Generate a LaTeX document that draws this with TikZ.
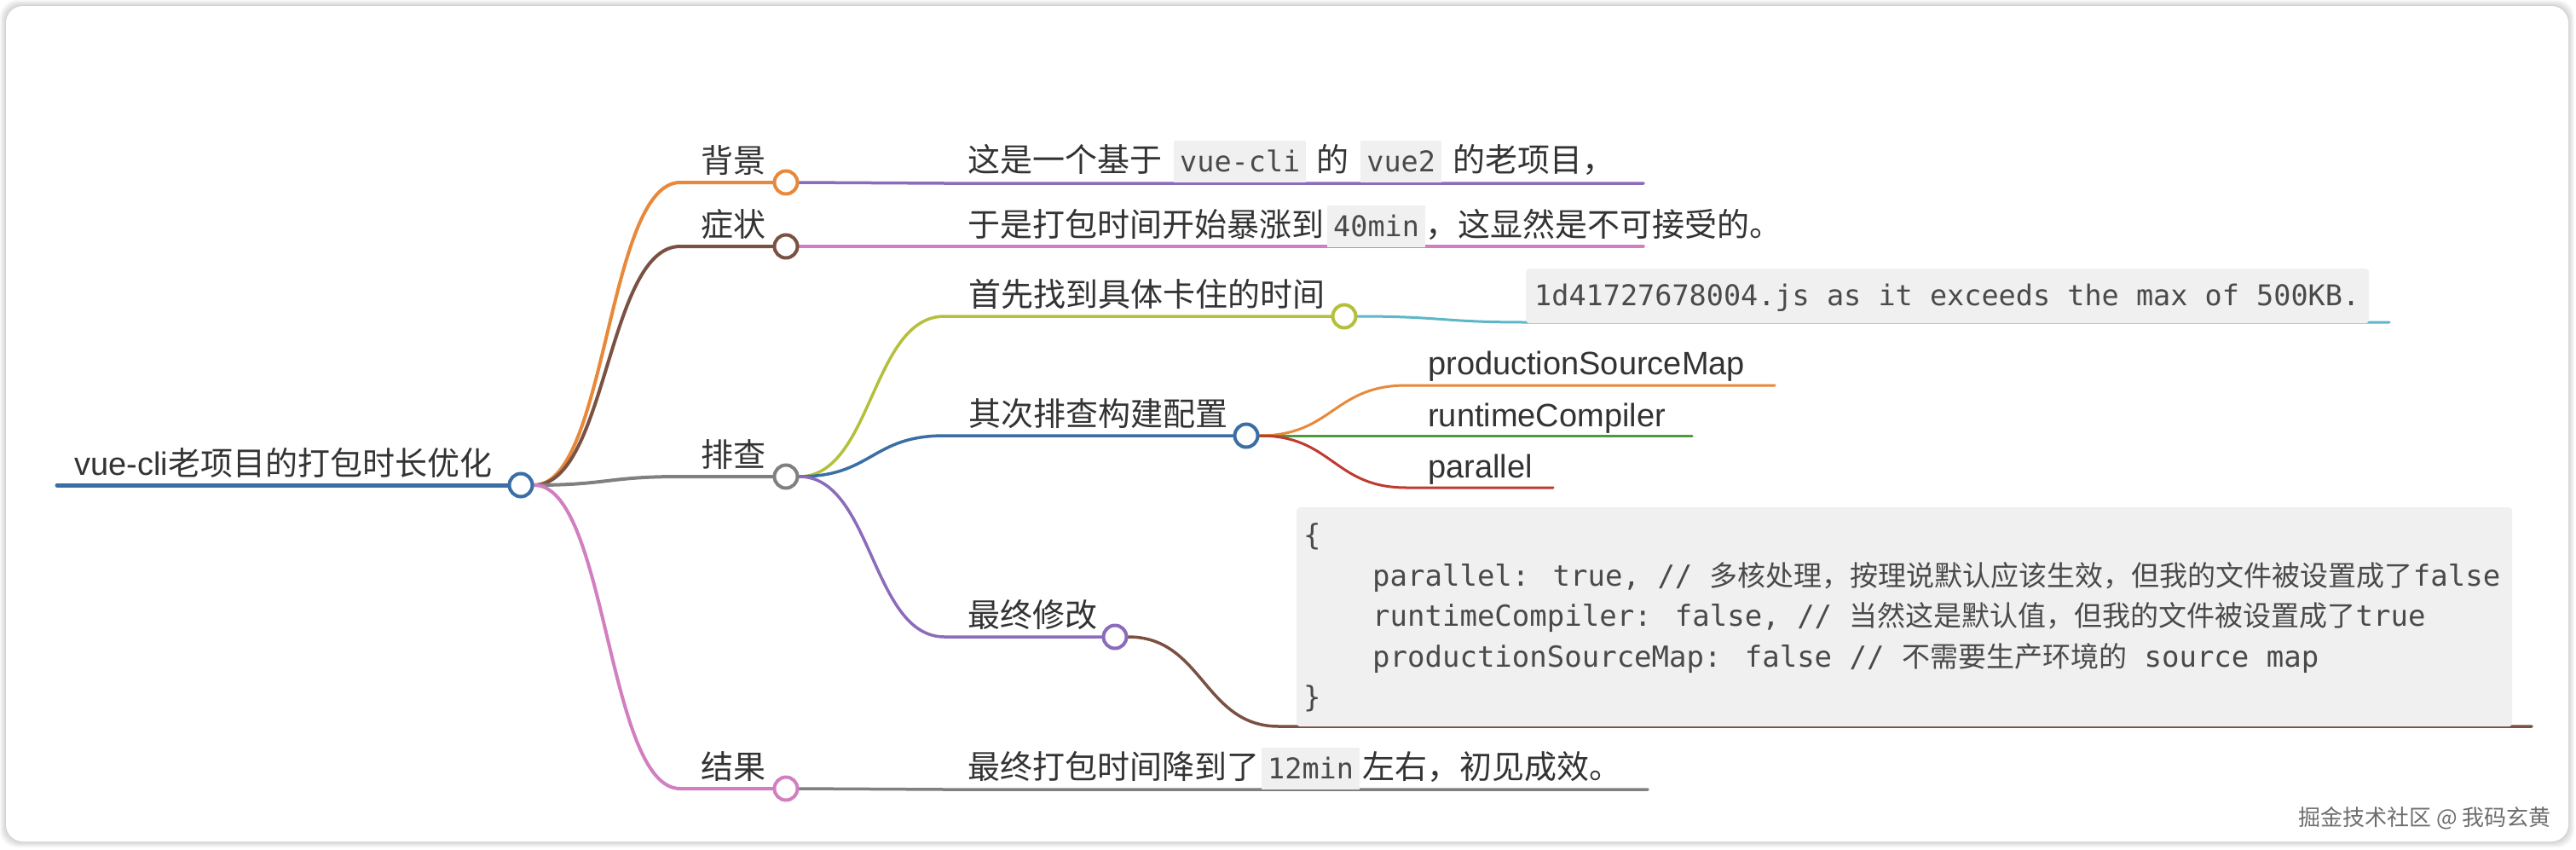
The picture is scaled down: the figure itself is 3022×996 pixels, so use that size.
\documentclass[tikz,border=0pt]{standalone}
\usepackage{fontspec}
\setmainfont{Noto Sans CJK SC}
\newfontfamily\cjk{Noto Sans CJK SC}
\newfontfamily\lat{Liberation Sans}
\newfontfamily\mono{DejaVu Sans Mono}
\usetikzlibrary{backgrounds}
\definecolor{cBlue}{HTML}{3A6EA5}
\definecolor{cOrange}{HTML}{E8883A}
\definecolor{cBrown}{HTML}{7A5142}
\definecolor{cGrey}{HTML}{808080}
\definecolor{cPink}{HTML}{D27FC1}
\definecolor{cPurple}{HTML}{8B6BBA}
\definecolor{cYG}{HTML}{B4C03C}
\definecolor{cCyan}{HTML}{5CB7C8}
\definecolor{cGreen}{HTML}{4D9A3F}
\definecolor{cRed}{HTML}{BF3A2F}
\definecolor{codebg}{HTML}{F0F0F0}
\definecolor{codefg}{HTML}{4A4A4A}
\definecolor{txt}{HTML}{333333}
\definecolor{wm}{HTML}{6E6E6E}
\pgfdeclarelayer{card}
\pgfsetlayers{card,background,main}
\newcommand{\ic}[1]{{\setlength{\fboxsep}{7pt}\colorbox{codebg}{\rule[-6pt]{0pt}{35pt}\fontsize{33.5pt}{36pt}\mono\color{codefg}#1}}}
\newcommand{\cj}[1]{{\fontsize{33pt}{36pt}\cjk #1}}
\tikzset{
  lbl/.style={inner sep=0pt, font=\fontsize{38pt}{40pt}\selectfont, text=txt},
  dotnode/.style={circle, draw=#1, line width=4pt, fill=white, minimum size=27pt, inner sep=0pt},
  br/.style={draw=#1, line width=4pt, line cap=round},
  brs/.style={draw=#1, line width=3.5pt, line cap=round},
  brt/.style={draw=#1, line width=3pt, line cap=round},
  codeline/.style={inner sep=0pt, font=\fontsize{34pt}{36pt}\mono, text=codefg},
  codebox/.style={fill=codebg, rounded corners=4pt, inner sep=0pt, anchor=north west},
}
\begin{document}
\begin{tikzpicture}[x=1pt,y=-1pt]
\useasboundingbox (0,0) rectangle (3022,996);
\begin{pgfonlayer}{card}
  \fill[white] (0,0) rectangle (3022,996);
  \foreach \i in {1,...,7}{
    \fill[black, opacity=0.022, rounded corners=20pt] (7-\i,7-\i) rectangle (3013+\i,987+\i);
  }
  \fill[white, rounded corners=20pt] (7,7) rectangle (3013,987);
\end{pgfonlayer}

% circles
\node[dotnode=cBlue] (root) at (611,569) {};
\node[dotnode=cOrange] (bj) at (922,214) {};
\node[dotnode=cBrown] (zz) at (922,289) {};
\node[dotnode=cGrey] (pc) at (922,559) {};
\node[dotnode=cPink] (jg) at (922,925) {};
\node[dotnode=cYG] (sx) at (1577,371) {};
\node[dotnode=cBlue] (qc) at (1462,511) {};
\node[dotnode=cPurple] (zx) at (1308,747) {};

% code boxes
\node[codebox, minimum width=989pt, minimum height=64pt] (errbox) at (1790,315) {};
\node[codebox, minimum width=1426pt, minimum height=257pt] (cfgbox) at (1521,595) {};

% coordinates
\coordinate (rootstart) at (67,569);
\coordinate (h1) at (798,214);
\coordinate (h2) at (798,289);
\coordinate (h3) at (798,559);
\coordinate (h4) at (798,925);
\coordinate (hb) at (1108,215);
\coordinate (eb) at (1928,215);
\coordinate (hz) at (1108,289);
\coordinate (ez) at (1928,289);
\coordinate (hj) at (1108,926);
\coordinate (ej) at (1933,926);
\coordinate (hsx) at (1108,371);
\coordinate (hqc) at (1108,511);
\coordinate (hzx) at (1108,747);
\coordinate (hcy) at (1790,378);
\coordinate (ecy) at (2803,378);
\coordinate (hp1) at (1650,452);
\coordinate (ep1) at (2082,452);
\coordinate (ep2) at (1985,511);
\coordinate (hp3) at (1650,572);
\coordinate (ep3) at (1822,572);
\coordinate (hbr) at (1500,852);
\coordinate (ebr) at (2970,852);

\begin{pgfonlayer}{background}
  \draw[br=cBlue, line width=5pt] (rootstart) -- (root.west);
  \draw[br=cOrange] (root.east) .. controls +(86,0) and +(-86,0) .. (h1) -- (bj.west);
  \draw[br=cBrown] (root.east) .. controls +(86,0) and +(-86,0) .. (h2) -- (zz.west);
  \draw[br=cGrey] (root.east) .. controls +(86,0) and +(-86,0) .. (h3) -- (pc.west);
  \draw[br=cPink] (root.east) .. controls +(86,0) and +(-86,0) .. (h4) -- (jg.west);
  \draw[brs=cPurple] (bj.east) .. controls +(86,0) and +(-86,0) .. (hb) -- (eb);
  \draw[brs=cPink] (zz.east) .. controls +(86,0) and +(-86,0) .. (hz) -- (ez);
  \draw[brs=cGrey] (jg.east) .. controls +(86,0) and +(-86,0) .. (hj) -- (ej);
  \draw[brs=cYG] (pc.east) .. controls +(86,0) and +(-86,0) .. (hsx) -- (sx.west);
  \draw[brs=cBlue] (pc.east) .. controls +(86,0) and +(-86,0) .. (hqc) -- (qc.west);
  \draw[brs=cPurple] (pc.east) .. controls +(86,0) and +(-86,0) .. (hzx) -- (zx.west);
  \draw[brt=cCyan] (sx.east) .. controls +(99,0) and +(-99,0) .. (hcy) -- (ecy);
  \draw[brt=cOrange] (qc.east) .. controls +(86,0) and +(-86,0) .. (hp1) -- (ep1);
  \draw[brt=cGreen] (qc.east) -- (ep2);
  \draw[brt=cRed] (qc.east) .. controls +(86,0) and +(-86,0) .. (hp3) -- (ep3);
  \draw[brs=cBrown] (zx.east) .. controls +(88,0) and +(-88,0) .. (hbr) -- (ebr);
\end{pgfonlayer}

% labels
\node[lbl, anchor=base west] (title) at (87,557) {{\lat vue-cli}老项目的打包时长优化};
\node[lbl, anchor=base east] (bjl) at (899,202) {背景};
\node[lbl, anchor=base east] (zzl) at (899,277) {症状};
\node[lbl, anchor=base east] (pcl) at (899,547) {排查};
\node[lbl, anchor=base east] (jgl) at (899,913) {结果};

\node[lbl, anchor=base west] (bjt) at (1135,201) {这是一个基于\hspace{14pt}\ic{vue-cli}\hspace{12pt}的\hspace{14pt}\ic{vue2}\hspace{13pt}的老项目，};
\node[lbl, anchor=base west] (zzt) at (1135,277) {于是打包时间开始暴涨到\hspace{4pt}\ic{40min}，这显然是不可接受的。};
\node[lbl, anchor=base west] (sxl) at (1136,359) {首先找到具体卡住的时间};
\node[lbl, anchor=base west] (qcl) at (1136,499) {其次排查构建配置};
\node[lbl, anchor=base west] (zxl) at (1135,735) {最终修改};
\node[lbl, anchor=base west] (jgt) at (1135,913) {最终打包时间降到了\hspace{3pt}\ic{12min}\hspace{3pt}左右，初见成效。};

\node[lbl, anchor=base west, font=\fontsize{38pt}{40pt}\lat] (psm) at (1675,439) {productionSourceMap};
\node[lbl, anchor=base west, font=\fontsize{38pt}{40pt}\lat] (rtc) at (1675,500) {runtimeCompiler};
\node[lbl, anchor=base west, font=\fontsize{38pt}{40pt}\lat] (par) at (1675,560) {parallel};

% error message
\node[codeline, anchor=base west, font=\fontsize{33.5pt}{36pt}\mono] (errt) at (1800,358) {1d41727678004.js as it exceeds the max of 500KB.};

% config code
\node[codeline, anchor=base west] (c0) at (1529,639.5) {\{};
\node[codeline, anchor=base west] (c1) at (1610,687) {parallel: true, // \cj{多核处理，按理说默认应该生效，但我的文件被设置成了}false};
\node[codeline, anchor=base west] (c2) at (1610,734.5) {runtimeCompiler: false, // \cj{当然这是默认值，但我的文件被设置成了}true};
\node[codeline, anchor=base west] (c3) at (1610,782) {productionSourceMap: false // \cj{不需要生产环境的} source map};
\node[codeline, anchor=base west] (c4) at (1529,829.5) {\}};

% watermark
\node[inner sep=0pt, anchor=base east, font=\fontsize{26pt}{28pt}\selectfont, text=wm] (wmk) at (2993,968) {掘金技术社区 @ 我码玄黄};
\end{tikzpicture}
\end{document}
